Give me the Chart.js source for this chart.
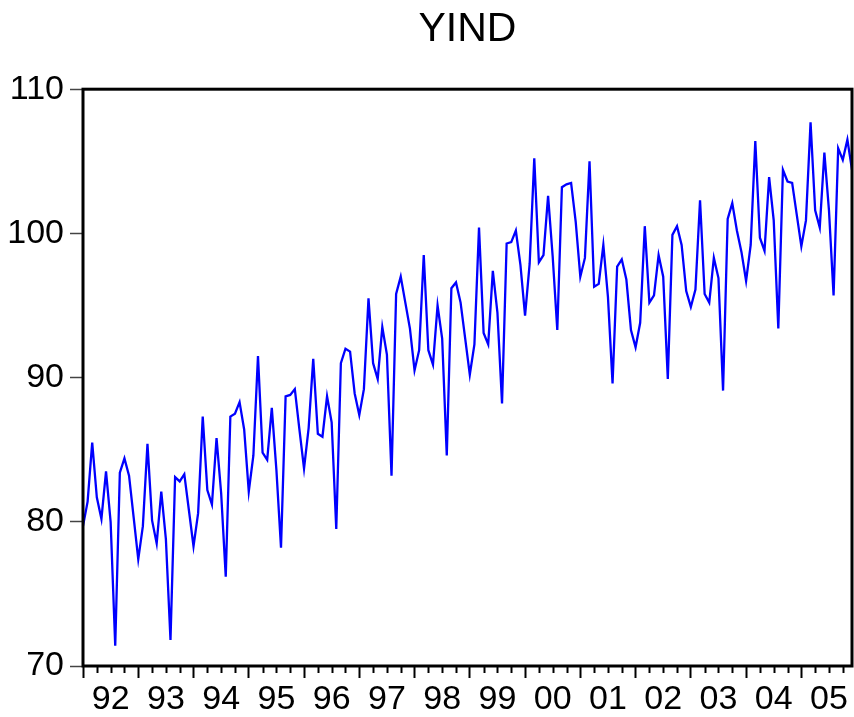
<!DOCTYPE html>
<html>
<head>
<meta charset="utf-8">
<script src="https://cdn.jsdelivr.net/npm/chart.js@4/dist/chart.umd.min.js"></script>
<style>
html,body{margin:0;padding:0;background:#ffffff;}
#wrap{width:854px;height:717px;}
</style>
</head>
<body>
<div id="wrap"><canvas id="c" width="854" height="717"></canvas></div>
<script>
// ---- data (monthly, Jan 1992 - Dec 2005) ----
const years = [1992,1993,1994,1995,1996,1997,1998,1999,2000,2001,2002,2003,2004,2005];
const yearLabels = ['92','93','94','95','96','97','98','99','00','01','02','03','04','05'];
const yTicks = [70, 80, 90, 100, 110];

const v1992 = [79.7, 81.4, 85.5, 81.7, 80.2, 83.5, 80.0, 71.4, 83.4, 84.4, 83.2, 80.3];
const v1993 = [77.4, 79.7, 85.4, 80.1, 78.5, 82.1, 78.8, 71.8, 83.1, 82.8, 83.3, 80.8];
const v1994 = [78.3, 80.6, 87.3, 82.2, 81.2, 85.8, 82.0, 76.2, 87.3, 87.5, 88.3, 86.4];
const v1995 = [82.1, 84.6, 91.5, 84.8, 84.3, 87.9, 83.6, 78.2, 88.7, 88.8, 89.2, 86.4];
const v1996 = [83.7, 86.5, 91.3, 86.1, 85.9, 88.7, 86.9, 79.5, 91.0, 92.0, 91.8, 88.9];
const v1997 = [87.4, 89.2, 95.5, 91.0, 89.9, 93.5, 91.6, 83.2, 95.8, 97.0, 95.2, 93.4];
const v1998 = [90.5, 91.9, 98.5, 91.9, 90.9, 95.0, 92.7, 84.6, 96.2, 96.6, 95.2, 92.7];
const v1999 = [90.2, 92.3, 100.4, 93.1, 92.3, 97.4, 94.5, 88.2, 99.3, 99.4, 100.2, 97.8];
const v2000 = [94.3, 97.9, 105.2, 98.0, 98.5, 102.6, 98.4, 93.3, 103.2, 103.4, 103.5, 100.8];
const v2001 = [97.0, 98.3, 105.0, 96.3, 96.5, 99.2, 95.6, 89.6, 97.7, 98.2, 96.8, 93.3];
const v2002 = [92.1, 93.8, 100.5, 95.2, 95.7, 98.5, 97.0, 89.9, 99.9, 100.5, 99.2, 96.0];
const v2003 = [94.9, 96.1, 102.3, 95.8, 95.2, 98.3, 96.9, 89.1, 101.0, 102.1, 100.2, 98.7];
const v2004 = [96.7, 99.2, 106.4, 99.7, 98.8, 103.9, 100.9, 93.4, 104.4, 103.6, 103.5, 101.3];
const v2005 = [99.1, 100.9, 107.7, 101.6, 100.4, 105.6, 101.6, 95.7, 105.9, 105.1, 106.5, 104.4];

const values = [].concat(v1992, v1993, v1994, v1995, v1996, v1997, v1998,
                         v1999, v2000, v2001, v2002, v2003, v2004, v2005);
const categories = [];
years.forEach(y => { for (let m = 1; m <= 12; m++) categories.push(y + 'M' + String(m).padStart(2, '0')); });

// ---- frame + minor (quarterly) tick marks ----
const framePlugin = {
  id: 'frame',
  afterDatasetsDraw(chart) {
    const ctx = chart.ctx, a = chart.chartArea, xs = chart.scales.x;
    ctx.save();
    ctx.strokeStyle = '#000';
    ctx.lineWidth = 2;
    for (let i = 0; i < categories.length; i++) {
      if (i % 3 === 0 && i % 12 !== 0) {
        const px = Math.round(xs.getPixelForValue(i)) + 0.5;
        ctx.beginPath();
        ctx.moveTo(px, a.bottom);
        ctx.lineTo(px, a.bottom + 7);
        ctx.stroke();
      }
    }
    ctx.lineWidth = 3;
    ctx.strokeRect(a.left, a.top, a.right - a.left, a.bottom - a.top);
    ctx.restore();
  }
};

const FONT = "'Liberation Sans', Arial, Helvetica, sans-serif";

new Chart(document.getElementById('c'), {
  type: 'line',
  data: {
    labels: categories,
    datasets: [{
      label: 'YIND',
      data: values,
      borderColor: '#0000ff',
      borderWidth: 2.3,
      pointRadius: 0,
      tension: 0,
      fill: false
    }]
  },
  options: {
    responsive: false,
    animation: false,
    devicePixelRatio: 1,
    layout: { padding: { left: 0, right: 2, top: 0, bottom: 0 } },
    plugins: {
      legend: { display: false },
      tooltip: { enabled: false },
      title: {
        display: true,
        fullSize: false,
        text: 'YIND',
        color: '#000',
        font: { family: FONT, size: 41, weight: 'normal', lineHeight: 1.2 },
        padding: { top: 5, bottom: 35 }
      }
    },
    scales: {
      x: {
        type: 'category',
        offset: false,
        border: { display: false },
        grid: {
          drawOnChartArea: false,
          drawTicks: true,
          tickLength: 12,
          tickWidth: 2,
          tickColor: (c) => (c.index % 12 === 0 ? '#000' : 'rgba(0,0,0,0)')
        },
        ticks: {
          autoSkip: false,
          maxRotation: 0,
          minRotation: 0,
          padding: 1,
          color: '#000',
          font: { family: FONT, size: 34 },
          callback: (val, idx) => (idx % 12 === 6 ? yearLabels[Math.floor(idx / 12)] : '')
        },
        afterFit: (s) => { s.height = 51; }
      },
      y: {
        min: 70,
        max: 110,
        border: { display: false },
        afterBuildTicks: (s) => { s.ticks = yTicks.map(v => ({ value: v })); },
        grid: {
          drawOnChartArea: false,
          drawTicks: true,
          tickLength: 13,
          tickWidth: 1.5,
          tickColor: '#444'
        },
        ticks: {
          padding: 6,
          color: '#000',
          font: { family: FONT, size: 34 }
        },
        afterFit: (s) => { s.width = 83; }
      }
    }
  },
  plugins: [framePlugin]
});
</script>
</body>
</html>
